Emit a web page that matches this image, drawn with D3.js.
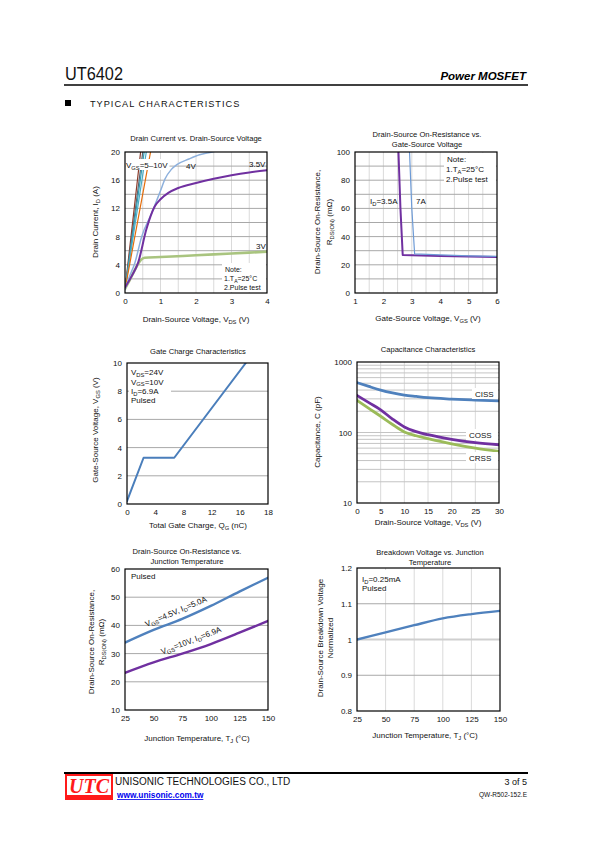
<!DOCTYPE html>
<html><head><meta charset="utf-8">
<script src="https://cdn.jsdelivr.net/npm/d3@7"></script>
<style>body{margin:0;background:#fff}svg{display:block;font-family:"Liberation Sans",Arial,sans-serif}</style>
</head><body><svg id="s" width="595" height="842"></svg>
<script>
// ---------------- DATA ----------------
// Chart 1: Drain current vs drain-source voltage
const c1XTicks = [0,1,2,3,4];
const c1YTicks = [0,4,8,12,16,20];
const c1Steep = [ // VGS = 5..10 V
  [[0,0.5],[0.44,20]],
  [[0,0.5],[0.50,20]],
  [[0,0.5],[0.54,20]],
  [[0,0.5],[0.60,20]],
  [[0,0.5],[0.72,20]]
];
const c1Vgs4 = [[0,0.5],[0.1,2],[0.28,4.3],[0.47,8],[0.75,11.3],[1.0,14.5],[1.13,16.2],[1.3,17.5],[1.46,18.2],[1.8,19],[2.1,19.6],[2.45,20],[2.6,20.2]];
const c1Vgs35 = [[0,0.8],[0.2,2.5],[0.37,4.3],[0.6,9],[0.84,12.3],[1.0,13.3],[1.22,14.2],[1.5,14.9],[2.0,15.6],[2.5,16.2],[3.0,16.7],[3.5,17.1],[4,17.4]];
const c1Vgs3 = [[0,0.6],[0.15,2],[0.3,3.5],[0.45,4.7],[0.55,5.0],[1,5.1],[2,5.35],[3,5.6],[4,5.85]];

// Chart 2: RDS(on) vs VGS
const c2XTicks = [1,2,3,4,5,6];
const c2YTicks = [0,20,40,60,80,100];
const c2Id35 = [[2.53,100],[2.6,60],[2.68,27],[3,26.8],[4,26.3],[5,25.9],[6,25.5]];
const c2Id7 = [[2.92,100],[3.0,60],[3.1,27.7],[4,27],[5,26.4],[6,26]];

// Chart 3: Gate charge
const c3XTicks = [0,4,8,12,16,20];
const c3XLabels = ["0","4","8","12","16","18"];
const c3YTicks = [0,2,4,6,8,10];
const c3Vgs = [[0,0.2],[2.35,3.28],[6.7,3.28],[16.85,10]];

// Chart 4: Capacitance
const c4XTicks = [0,5,10,15,20,25,30];
const c4YTicks = [10,100,1000];
const c4Vds = [0,2.5,5,7.5,10,12.5,15,20,25,30];
const c4Ciss = [510,450,400,365,340,325,312,298,288,280];
const c4Coss = [335,265,210,155,120,103,93,80,72,67];
const c4Crss = [285,220,170,130,102,90,82,69,60,54];

// Chart 5: RDS(on) vs junction temperature
const c5XTicks = [25,50,75,100,125,150];
const c5YTicks = [10,20,30,40,50,60];
const c5Tj = [25,50,75,100,125,150];
const c5Vgs45 = [33.9,38.4,42.3,46.9,52.0,56.9];
const c5Vgs10 = [23.2,26.9,30.0,33.4,37.4,41.6];

// Chart 6: Breakdown voltage vs junction temperature
const c6XTicks = [25,50,75,100,125,150];
const c6YTicks = [0.8,0.9,1,1.1,1.2];
const c6Tj = [25,50,75,100,125,150];
const c6Bv = [1.0,1.02,1.04,1.059,1.071,1.08];

// ---------------- DRAWING ----------------
const svg = d3.select('#s');
const FS = 8;
const TXT = '#111';

function rich(sel, str, fs) {
  fs = fs || FS;
  const parts = str.split(/(_\{[^}]*\})/);
  let sub = false;
  parts.forEach(p => {
    if (!p) return;
    const m = p.match(/^_\{(.*)\}$/);
    if (m) { sel.append('tspan').attr('font-size', fs*0.72).attr('dy', fs*0.22).text(m[1]); sub = true; }
    else { const t = sel.append('tspan').text(p); if (sub) t.attr('dy', -fs*0.22); sub = false; }
  });
  return sel;
}
function txt(g, x, y, str, o) {
  o = o || {};
  const t = g.append('text').attr('x', x).attr('y', y)
    .attr('font-size', o.fs || FS).attr('fill', o.fill || TXT)
    .attr('text-anchor', o.anchor || 'start');
  if (o.weight) t.attr('font-weight', o.weight);
  if (o.style) t.attr('font-style', o.style);
  if (o.family) t.attr('font-family', o.family);
  if (o.rotate !== undefined) t.attr('transform', `rotate(${o.rotate},${x},${y})`);
  rich(t, str, o.fs || FS);
  return t;
}
let clipN = 0;
function panel(o) {
  const g = svg.append('g');
  const x = o.x, y = o.y;
  const [L, R] = x.range(), [B, T] = y.range();
  const id = 'clip' + (clipN++);
  svg.append('clipPath').attr('id', id).append('rect').attr('x', L).attr('y', T).attr('width', R-L).attr('height', B-T);
  g.append('rect').attr('x', L).attr('y', T).attr('width', R-L).attr('height', B-T).attr('fill', '#fff');
  g.selectAll('.vg').data(o.vGrid || []).join('line')
    .attr('x1', d => x(d)).attr('x2', d => x(d)).attr('y1', T).attr('y2', B)
    .attr('stroke', o.vGridColor || '#dadada').attr('stroke-width', 1);
  g.selectAll('.hg').data(o.hGrid || []).join('line')
    .attr('x1', L).attr('x2', R).attr('y1', d => y(d)).attr('y2', d => y(d))
    .attr('stroke', o.hGridColor || '#a8a8a8').attr('stroke-width', 1);
  const ax = g.append('g').attr('transform', `translate(0,${B})`)
    .call(d3.axisBottom(x).tickValues(o.xTicks).tickSize(0).tickPadding(5)
      .tickFormat((d, i) => o.xLabels ? o.xLabels[i] : (o.xFmt ? o.xFmt(d) : d)));
  const ay = g.append('g').attr('transform', `translate(${L},0)`)
    .call(d3.axisLeft(y).tickValues(o.yTicks).tickSize(0).tickPadding(5)
      .tickFormat(d => o.yFmt ? o.yFmt(d) : d));
  [ax, ay].forEach(a => { a.select('.domain').remove(); a.selectAll('text').attr('font-size', FS).attr('font-family', '"Liberation Sans",Arial,sans-serif').attr('fill', TXT); });
  const plot = g.append('g').attr('clip-path', `url(#${id})`);
  const frame = () => g.append('rect').attr('x', L).attr('y', T).attr('width', R-L).attr('height', B-T)
    .attr('fill', 'none').attr('stroke', '#000').attr('stroke-width', 1.2);
  return { g, plot, x, y, L, R, T, B, frame };
}
function drawLine(p, data, color, w, curve) {
  p.plot.append('path').datum(data)
    .attr('d', d3.line().x(d => p.x(d[0])).y(d => p.y(d[1])).curve(curve || d3.curveLinear))
    .attr('fill', 'none').attr('stroke', color).attr('stroke-width', w)
    .attr('stroke-linejoin', 'round').attr('stroke-linecap', 'round');
}
function whiteBox(g, x, y, w, h) {
  g.append('rect').attr('x', x).attr('y', y).attr('width', w).attr('height', h).attr('fill', '#fff');
}
const range = (a, b, s) => d3.range(a, b + s/2, s);

// ---- Header ----
svg.append('text').attr('x', 65).attr('y', 80).attr('font-size', 18).attr('fill', TXT)
  .attr('textLength', 58).attr('lengthAdjust', 'spacingAndGlyphs').text('UT6402');
svg.append('text').attr('x', 526).attr('y', 80).attr('font-size', 11.5).attr('font-weight', 'bold')
  .attr('font-style', 'italic').attr('text-anchor', 'end').text('Power MOSFET');
svg.append('line').attr('x1', 64).attr('x2', 528).attr('y1', 85).attr('y2', 85).attr('stroke', '#000').attr('stroke-width', 1.3);
svg.append('rect').attr('x', 65).attr('y', 100).attr('width', 6).attr('height', 6).attr('fill', '#000');
svg.append('text').attr('x', 90).attr('y', 106.5).attr('font-size', 9.2).attr('fill', TXT).attr('letter-spacing', 1).text('TYPICAL CHARACTERISTICS');

// ---- Chart 1 ----
{
  const p = panel({
    x: d3.scaleLinear().domain([0, 4]).range([125, 267]),
    y: d3.scaleLinear().domain([0, 20]).range([293, 152]),
    xTicks: c1XTicks, yTicks: c1YTicks,
    vGrid: range(0.5, 3.5, 0.5), hGrid: range(2, 18, 2)
  });
  const steepColors = ['#8c3b2a', '#5a6470', '#31a0b8', '#4bacc6', '#e46c0a'];
  c1Steep.forEach((d, i) => drawLine(p, d, steepColors[i], 1.2));
  drawLine(p, c1Vgs3, '#a9c47f', 2.6, d3.curveMonotoneX);
  drawLine(p, c1Vgs4, '#8db0dc', 1.5, d3.curveMonotoneX);
  drawLine(p, c1Vgs35, '#7030a0', 2, d3.curveMonotoneX);
  whiteBox(p.g, 222, 263, 44, 29);
  whiteBox(p.g, 125.5, 159, 44, 11);
  p.frame();
  txt(p.g, 126, 168, 'V_{GS}=5–10V');
  txt(p.g, 186, 169, '4V');
  txt(p.g, 249, 167, '3.5V');
  txt(p.g, 256, 249, '3V');
  txt(p.g, 225, 272, 'Note:', {fs: 7});
  txt(p.g, 224, 281, '1.T_{A}=25°C', {fs: 7});
  txt(p.g, 224, 290, '2.Pulse test', {fs: 7});
  txt(svg, 196, 141, 'Drain Current vs. Drain-Source Voltage', {anchor: 'middle', fs: 7.6});
  txt(svg, 98, 222, 'Drain Current, I_{D} (A)', {anchor: 'middle', rotate: -90});
  txt(svg, 196, 322, 'Drain-Source Voltage, V_{DS} (V)', {anchor: 'middle'});
}

// ---- Chart 2 ----
{
  const p = panel({
    x: d3.scaleLinear().domain([1, 6]).range([355, 497]),
    y: d3.scaleLinear().domain([0, 100]).range([293, 152]),
    xTicks: c2XTicks, yTicks: c2YTicks,
    vGrid: range(1.5, 5.5, 0.5), hGrid: range(10, 90, 10)
  });
  whiteBox(p.g, 444, 153, 52, 29);
  drawLine(p, c2Id35, '#7030a0', 2);
  drawLine(p, c2Id7, '#6e9bd6', 1.2);
  p.frame();
  txt(p.g, 370, 204, 'I_{D}=3.5A');
  txt(p.g, 416, 204, '7A');
  txt(p.g, 447, 162, 'Note:');
  txt(p.g, 446, 172, '1.T_{A}=25°C');
  txt(p.g, 446, 182, '2.Pulse test');
  txt(svg, 427, 137, 'Drain-Source On-Resistance vs.', {anchor: 'middle', fs: 7.6});
  txt(svg, 427, 147, 'Gate-Source Voltage', {anchor: 'middle', fs: 7.6});
  txt(svg, 320, 222, 'Drain-Source On-Resistance,', {anchor: 'middle', rotate: -90});
  txt(svg, 332, 222, 'R_{DS(ON)} (mΩ)', {anchor: 'middle', rotate: -90});
  txt(svg, 428, 321, 'Gate-Source Voltage, V_{GS} (V)', {anchor: 'middle'});
}

// ---- Chart 3 ----
{
  const p = panel({
    x: d3.scaleLinear().domain([0, 20]).range([127, 268]),
    y: d3.scaleLinear().domain([0, 10]).range([504, 363]),
    xTicks: c3XTicks, xLabels: c3XLabels, yTicks: c3YTicks,
    vGrid: [], hGrid: range(2, 8, 2)
  });
  whiteBox(p.g, 129, 365, 42, 40);
  drawLine(p, c3Vgs, '#4a7ebb', 2);
  p.frame();
  txt(p.g, 131, 375, 'V_{DS}=24V');
  txt(p.g, 131, 384.5, 'V_{GS}=10V');
  txt(p.g, 131, 394, 'I_{D}=6.9A');
  txt(p.g, 131, 403, 'Pulsed');
  txt(svg, 198, 354, 'Gate Charge Characteristics', {anchor: 'middle', fs: 7.6});
  txt(svg, 98, 430, 'Gate-Source Voltage, V_{GS} (V)', {anchor: 'middle', rotate: -90});
  txt(svg, 198, 528, 'Total Gate Charge, Q_{G} (nC)', {anchor: 'middle'});
}

// ---- Chart 4 ----
{
  const minor = [];
  [10, 100].forEach(dec => { for (let k = 2; k <= 9; k++) minor.push(dec * k); });
  minor.push(100);
  const p = panel({
    x: d3.scaleLinear().domain([0, 30]).range([357, 499]),
    y: d3.scaleLog().domain([10, 1000]).range([503, 362]),
    xTicks: c4XTicks, yTicks: c4YTicks, yFmt: d3.format('d'),
    vGrid: range(5, 25, 5), hGrid: minor, hGridColor: '#c4c4c4'
  });
  whiteBox(p.g, 472, 388, 26, 11);
  whiteBox(p.g, 466, 429, 32, 11);
  whiteBox(p.g, 466, 452, 32, 11);
  const pts = arr => c4Vds.map((v, i) => [v, arr[i]]);
  drawLine(p, pts(c4Ciss), '#4f81bd', 2.8, d3.curveMonotoneX);
  drawLine(p, pts(c4Crss), '#9bbb59', 2.8, d3.curveMonotoneX);
  drawLine(p, pts(c4Coss), '#7030a0', 2.8, d3.curveMonotoneX);
  p.frame();
  txt(p.g, 475, 397, 'CISS');
  txt(p.g, 469, 438, 'COSS');
  txt(p.g, 469, 461, 'CRSS');
  txt(svg, 428, 352, 'Capacitance Characteristics', {anchor: 'middle', fs: 7.6});
  txt(svg, 320, 432, 'Capacitance, C (pF)', {anchor: 'middle', rotate: -90});
  txt(svg, 428, 525, 'Drain-Source Voltage, V_{DS} (V)', {anchor: 'middle'});
}

// ---- Chart 5 ----
{
  const p = panel({
    x: d3.scaleLinear().domain([25, 150]).range([125, 268]),
    y: d3.scaleLinear().domain([10, 60]).range([710, 569]),
    xTicks: c5XTicks, yTicks: c5YTicks,
    vGrid: [], hGrid: range(20, 50, 10)
  });
  drawLine(p, c5Tj.map((t, i) => [t, c5Vgs45[i]]), '#4f81bd', 2.4, d3.curveMonotoneX);
  drawLine(p, c5Tj.map((t, i) => [t, c5Vgs10[i]]), '#7030a0', 2.4, d3.curveMonotoneX);
  p.frame();
  txt(p.g, 177, 614, 'V_{GS}=4.5V, I_{D}=5.0A', {anchor: 'middle', rotate: -23});
  txt(p.g, 192, 643, 'V_{GS}=10V, I_{D}=6.9A', {anchor: 'middle', rotate: -21});
  txt(p.g, 131, 579, 'Pulsed');
  txt(svg, 187, 554, 'Drain-Source On-Resistance vs.', {anchor: 'middle', fs: 7.6});
  txt(svg, 187, 564, 'Junction Temperature', {anchor: 'middle', fs: 7.6});
  txt(svg, 94, 642, 'Drain-Source On-Resistance,', {anchor: 'middle', rotate: -90});
  txt(svg, 104, 642, 'R_{DS(ON)} (mΩ)', {anchor: 'middle', rotate: -90});
  txt(svg, 197, 741, 'Junction Temperature, T_{J} (°C)', {anchor: 'middle'});
}

// ---- Chart 6 ----
{
  const p = panel({
    x: d3.scaleLinear().domain([25, 150]).range([357, 500]),
    y: d3.scaleLinear().domain([0.8, 1.2]).range([711, 568]),
    xTicks: c6XTicks, yTicks: c6YTicks,
    vGrid: range(50, 125, 25), hGrid: [0.9, 1.1], yFmt: d => d3.format('')(+d.toFixed(1))
  });
  p.plot.append('line').attr('x1', p.L).attr('x2', p.R).attr('y1', p.y(1)).attr('y2', p.y(1))
    .attr('stroke', '#cfcfcf').attr('stroke-width', 2);
  whiteBox(p.g, 359, 570, 48, 22);
  drawLine(p, c6Tj.map((t, i) => [t, c6Bv[i]]), '#4f81bd', 2.4, d3.curveMonotoneX);
  p.frame();
  txt(p.g, 362, 582, 'I_{D}=0.25mA');
  txt(p.g, 362, 591, 'Pulsed');
  txt(svg, 430, 555, 'Breakdown Voltage vs. Junction', {anchor: 'middle', fs: 7.6});
  txt(svg, 430, 565, 'Temperature', {anchor: 'middle', fs: 7.6});
  txt(svg, 323, 638, 'Drain-Source Breakdown Voltage', {anchor: 'middle', rotate: -90});
  txt(svg, 333, 638, 'Normalized', {anchor: 'middle', rotate: -90});
  txt(svg, 425, 738, 'Junction Temperature, T_{J} (°C)', {anchor: 'middle'});
}

// ---- Footer ----
svg.append('line').attr('x1', 64).attr('x2', 528).attr('y1', 773).attr('y2', 773).attr('stroke', '#000').attr('stroke-width', 2);
svg.append('rect').attr('x', 65).attr('y', 774).attr('width', 48).attr('height', 26).attr('fill', '#ff1a1a');
svg.append('rect').attr('x', 67).attr('y', 776).attr('width', 44).attr('height', 19).attr('fill', '#fff');
svg.append('text').attr('x', 89).attr('y', 793).attr('font-size', 20).attr('font-style', 'italic').attr('font-weight', 'bold')
  .attr('font-family', '"Liberation Serif",serif').attr('text-anchor', 'middle').attr('fill', '#ff1a1a').text('UTC');
svg.append('text').attr('x', 115).attr('y', 785).attr('font-size', 10).attr('fill', TXT).text('UNISONIC TECHNOLOGIES CO., LTD');
svg.append('text').attr('x', 117).attr('y', 798).attr('font-size', 8.3).attr('font-weight', 'bold').attr('fill', '#0000ee')
  .attr('text-decoration', 'underline').text('www.unisonic.com.tw');
svg.append('text').attr('x', 527).attr('y', 785).attr('font-size', 9).attr('fill', TXT).attr('text-anchor', 'end').text('3 of 5');
svg.append('text').attr('x', 527).attr('y', 797).attr('font-size', 6.5).attr('fill', TXT).attr('text-anchor', 'end').text('QW-R502-152.E');
</script></body></html>
